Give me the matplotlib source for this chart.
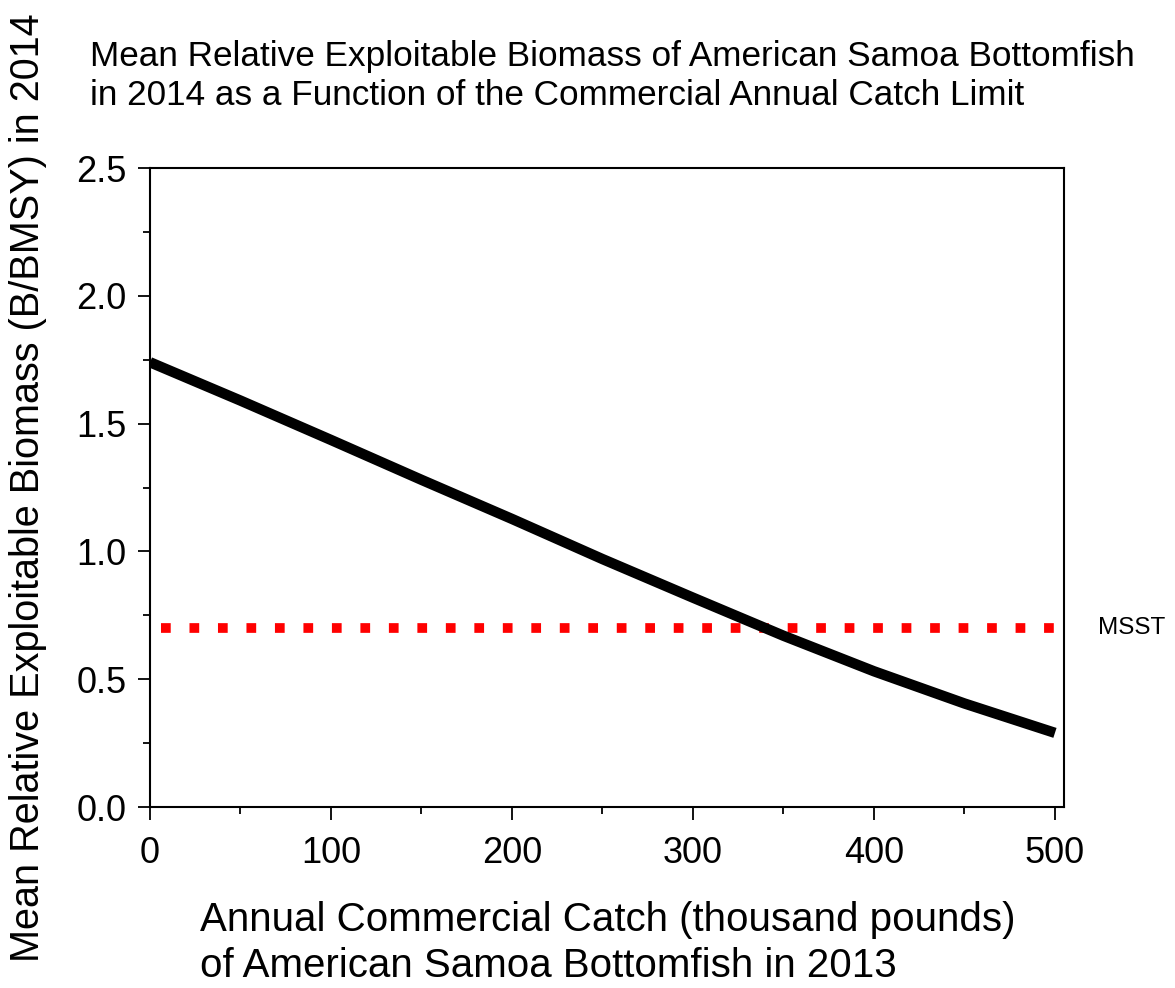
import matplotlib
matplotlib.use("Agg")
import matplotlib.pyplot as plt
from matplotlib.ticker import MultipleLocator

plt.rcParams['font.family'] = ['Liberation Sans', 'DejaVu Sans']

catch = [0, 50, 100, 150, 200, 250, 300, 350, 400, 450, 500]
biomass = [1.74, 1.59, 1.436, 1.28, 1.127, 0.97, 0.819, 0.67, 0.531, 0.405, 0.29]
msst = 0.70
msst_x = [6, 505]

fig = plt.figure(figsize=(11.75, 9.88), dpi=100)
ax = fig.add_axes([150/1175, 1 - 807/988, (1064-150)/1175, (807-168)/988])

ax.plot(catch, biomass, color='black', lw=7.5, solid_capstyle='butt', zorder=3)
ax.plot(msst_x, [msst, msst], color='#ff0000', lw=7.0, linestyle=(0, (1, 1.93)),
        dash_capstyle='butt', zorder=2)

ax.set_xlim(0, 505)
ax.set_ylim(0, 2.5)
ax.xaxis.set_major_locator(MultipleLocator(100))
ax.xaxis.set_minor_locator(MultipleLocator(50))
ax.yaxis.set_major_locator(MultipleLocator(0.5))
ax.yaxis.set_minor_locator(MultipleLocator(0.25))
ax.yaxis.set_major_formatter(matplotlib.ticker.FormatStrFormatter('%.1f'))
ax.tick_params(axis='both', which='major', length=9, width=1.3, labelsize=26, direction='out')
ax.tick_params(axis='both', which='minor', length=5, width=1.3, direction='out')
ax.tick_params(axis='x', which='major', pad=12)
ax.tick_params(axis='y', which='major', pad=8)
for s in ax.spines.values():
    s.set_linewidth(1.5)

fig.text(1098/1175, 1 - 628/988, 'MSST', fontsize=17.5, ha='left', va='center')
fig.text(90/1175, 1 - 76/988,
         'Mean Relative Exploitable Biomass of American Samoa Bottomfish\n'
         'in 2014 as a Function of the Commercial Annual Catch Limit',
         fontsize=25.3, ha='left', va='center', linespacing=1.22)
fig.text(200/1175, 1 - 943/988,
         'Annual Commercial Catch (thousand pounds)\nof American Samoa Bottomfish in 2013',
         fontsize=29, ha='left', va='center', linespacing=1.25)
fig.text(28/1175, 1 - 488/988, 'Mean Relative Exploitable Biomass (B/BMSY) in 2014',
         fontsize=28.5, rotation=90, ha='center', va='center')

fig.savefig('out.png', dpi=100)
